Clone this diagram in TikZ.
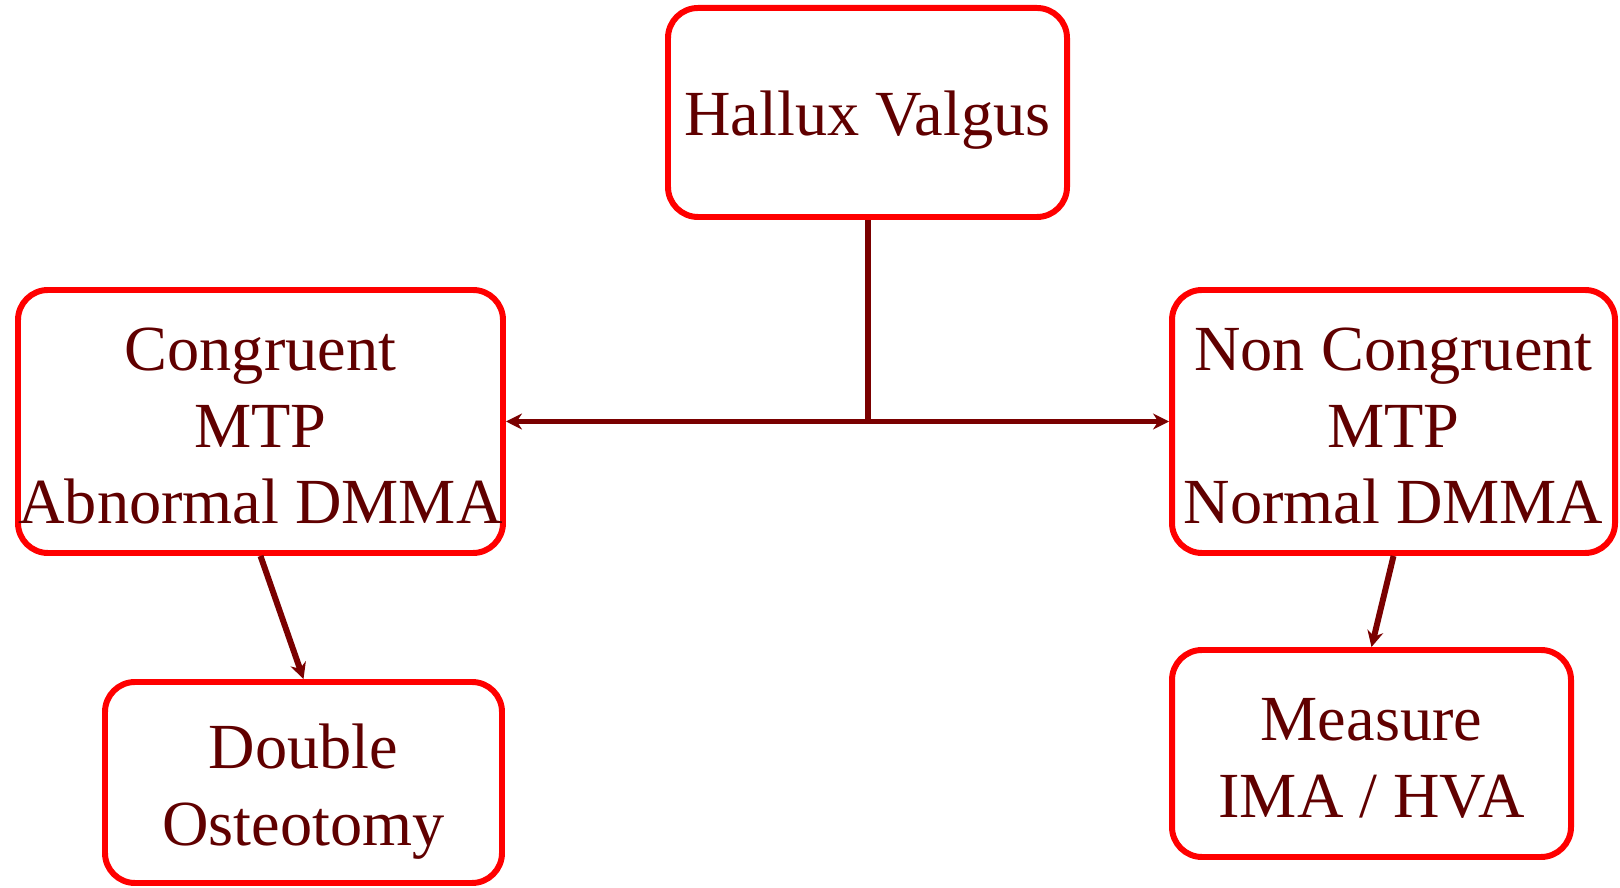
\documentclass[tikz,border=0pt]{standalone}
\usepackage{fontspec}
\setmainfont{Liberation Serif}
\usepackage{tikz}
\usetikzlibrary{arrows.meta, positioning}

\definecolor{boxred}{RGB}{255,0,0}
\definecolor{textred}{RGB}{96,0,0}
\definecolor{linkred}{RGB}{122,0,0}

\begin{document}
\begin{tikzpicture}[
                every node/.style={draw=boxred, line width=3.4pt, rounded corners=0.6cm, align=center,
                                   inner sep=0pt, text=textred, font=\fontsize{36.6}{43.8}\selectfont},
                link/.style={draw=linkred, line width=3.4pt},
                arrow/.style={link, -{Stealth[length=0.32cm, width=0.32cm]}}
            ]
            \useasboundingbox (0,0) rectangle (32.4,17.76);

            % Racine
            \node[minimum width=7.98cm, minimum height=4.18cm, text height=34pt] (hv) at (17.35,15.51) {Hallux Valgus};
            % Niveau 1 : articulation MTP
            \node[minimum width=9.70cm, minimum height=5.26cm, text height=117pt] (cg) at (5.21,9.33) {Congruent\\MTP\\Abnormal DMMA};
            \node[minimum width=8.86cm, minimum height=5.26cm, text height=117pt] (ncg) at (27.87,9.33) {Non Congruent\\MTP\\Normal DMMA};
            % Niveau 2 : traitement
            \node[minimum width=7.94cm, minimum height=4.02cm, text height=80pt] (dbl) at (6.07,2.11) {Double\\Osteotomy};
            \node[minimum width=7.98cm, minimum height=4.14cm, text height=73pt] (ms) at (27.43,2.69) {Measure\\IMA / HVA};

            % Liaisons
            \draw[link] (hv.south) -- (hv.south |- cg.east);
            \draw[arrow, {Stealth[length=0.32cm, width=0.32cm]}-{Stealth[length=0.32cm, width=0.32cm]}] (cg.east) -- (ncg.west);
            \draw[arrow] (cg.south) -- (dbl.north);
            \draw[arrow] (ncg.south) -- (ms.north);
        \end{tikzpicture}
\end{document}
